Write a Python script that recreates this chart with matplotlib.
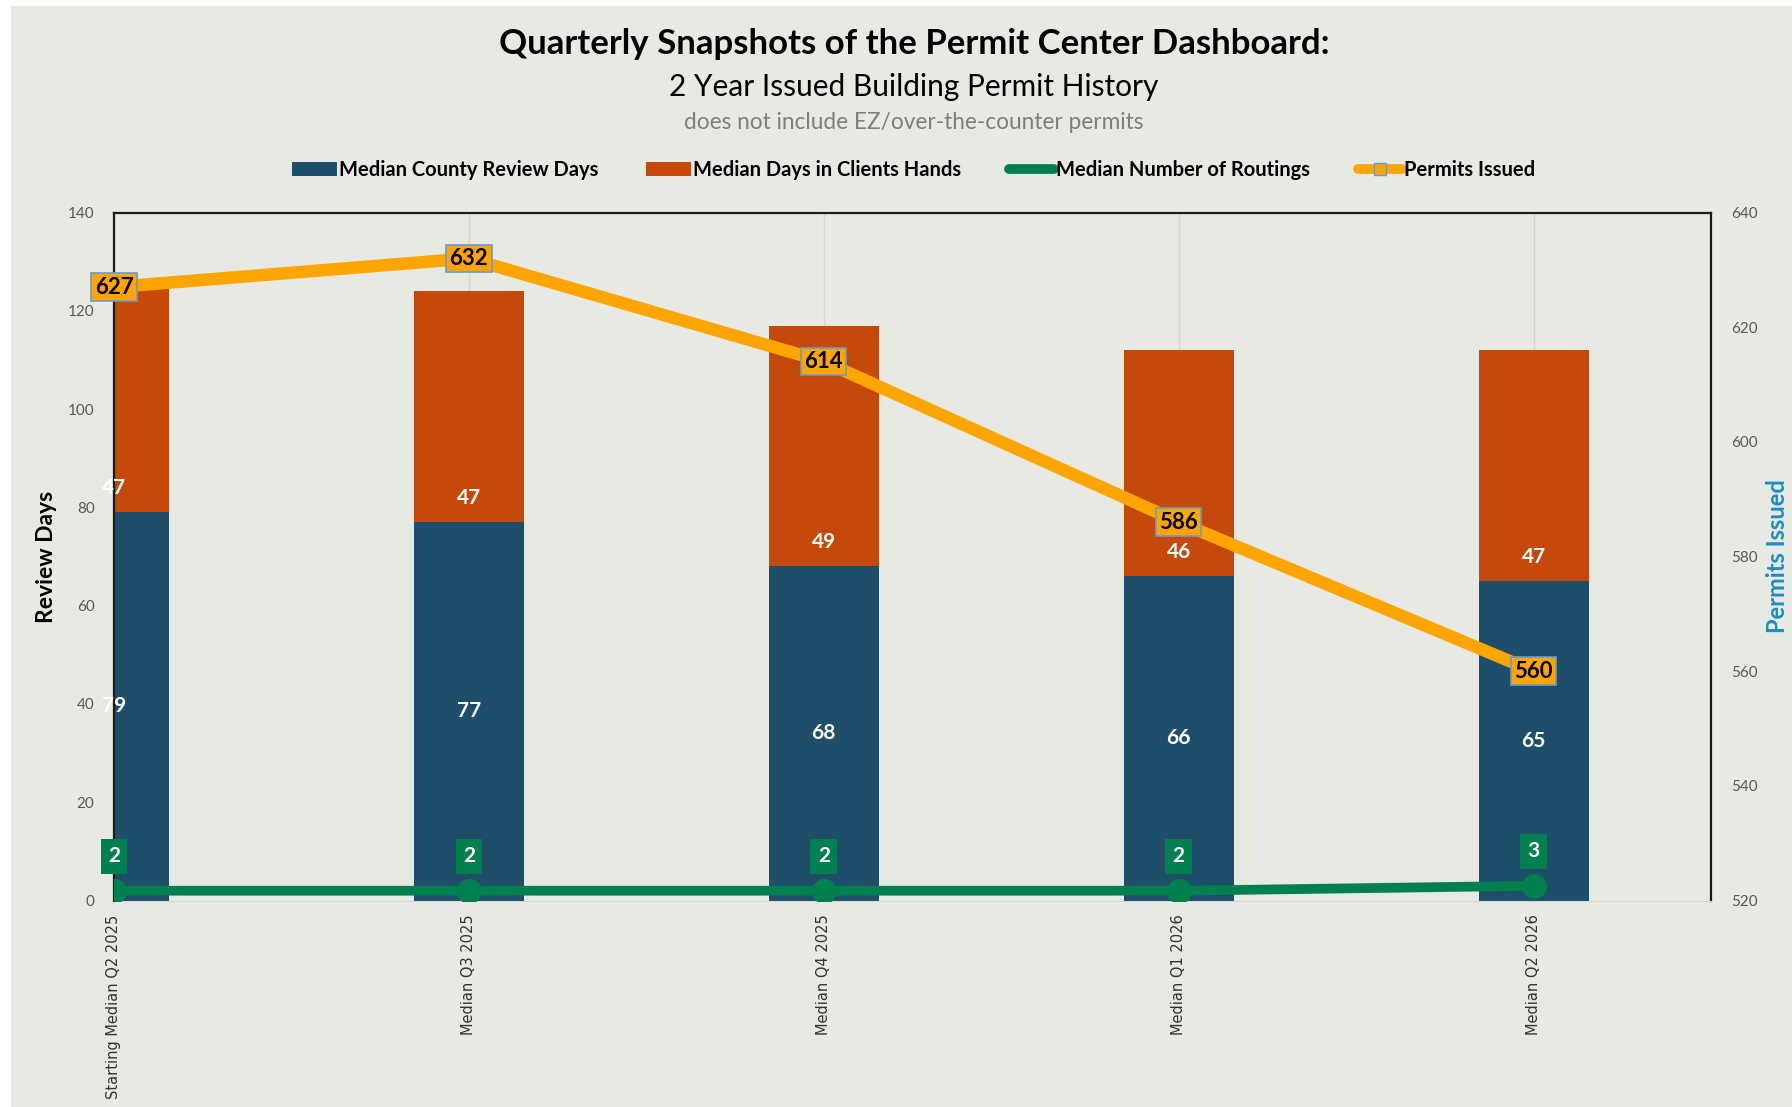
import numpy as np
import matplotlib.pyplot as plt
from matplotlib.lines import Line2D
from matplotlib.patches import Patch, Rectangle

# Data
quarters = ['Starting Median Q2 2025', 'Median Q3 2025', 'Median Q4 2025',
            'Median Q1 2026', 'Median Q2 2026']
county_days = [79, 77, 68, 66, 65]
client_days = [47, 47, 49, 46, 47]
routings = [2, 2, 2, 2, 3]
permits = [627, 632, 614, 586, 560]

BG = '#e7e9e3'
BLUE = '#1f4e6b'
ORANGE = '#c5490a'
GREEN = '#00804f'
GOLD = '#ffa500'
EDGE = '#6a9ccc'

plt.rcParams['font.family'] = ['Lato', 'DejaVu Sans']

fig = plt.figure(figsize=(17.92, 11.07), dpi=100, facecolor='white')
fig.patches.append(Rectangle((0.0064, 0.0), 0.9936, 0.9946, transform=fig.transFigure,
                             facecolor=BG, edgecolor='none', zorder=-10))

ax = fig.add_axes([0.0636, 0.1865, 0.8913, 0.6215])
ax.set_facecolor(BG)
x = np.arange(len(quarters))
w = 0.31

ax.bar(x, county_days, w, color=BLUE, zorder=2)
ax.bar(x, client_days, w, bottom=county_days, color=ORANGE, zorder=2)
ax.plot(x, routings, color=GREEN, lw=7, marker='o', ms=17, zorder=4, solid_capstyle='round')

for xi, c, o, r in zip(x, county_days, client_days, routings):
    ax.text(xi, c / 2, str(c), ha='center', va='center', color='white',
            fontsize=15, fontweight='bold', zorder=6)
    ax.text(xi, c + 5, str(o), ha='center', va='center', color='white',
            fontsize=15, fontweight='bold', zorder=6)
    ax.text(xi, r + 7, str(r), ha='center', va='center', color='white',
            fontsize=15, fontweight='bold', zorder=6,
            bbox=dict(boxstyle='square,pad=0.35', facecolor=GREEN, edgecolor='none'))

ax.set_xlim(0, 4.5)
ax.set_ylim(0, 140)
ax.set_yticks(range(0, 141, 20))
ax.set_xticks(x)
ax.set_xticklabels(quarters, rotation=90, color='#333333', va='top',
                   fontdict={'family': 'DejaVu Sans', 'size': 10.5})
ax.tick_params(axis='x', length=0, pad=10)
ax.tick_params(axis='y', length=0, labelsize=11, labelcolor='#595959', pad=14)
ax.grid(axis='x', color='#d4d6d2', lw=1, zorder=0)
ax.set_axisbelow(True)
for s in ['left', 'top', 'right']:
    ax.spines[s].set_color('#1a1a1a')
    ax.spines[s].set_linewidth(1.6)
ax.spines['bottom'].set_color('#d4d6d2')
ax.set_ylabel('Review Days', fontsize=16.5, fontweight='bold', labelpad=8)

ax2 = ax.twinx()
ax2.plot(x, permits, color=GOLD, lw=9, marker='s', ms=10, mfc=GOLD, mec=EDGE, zorder=3)
for xi, p in zip(x, permits):
    ax2.text(xi, p, str(p), ha='center', va='center', color='black',
             fontsize=16, fontweight='bold', zorder=7,
             bbox=dict(boxstyle='square,pad=0.15', facecolor=GOLD, edgecolor=EDGE, lw=1.2))
ax2.set_ylim(520, 640)
ax2.set_yticks(range(520, 641, 20))
ax2.tick_params(axis='y', length=0, labelsize=11, labelcolor='#595959', pad=14)
for s in ax2.spines.values():
    s.set_visible(False)
ax2.set_ylabel('Permits Issued', fontsize=17, fontweight='bold', color='#1a8fc4', labelpad=6)

handles = [
    Patch(facecolor=BLUE, label='Median County Review Days'),
    Patch(facecolor=ORANGE, label='Median Days in Clients Hands'),
    Line2D([], [], color=GREEN, lw=7, solid_capstyle='round', label='Median Number of Routings'),
    Line2D([], [], color=GOLD, lw=7, marker='s', ms=9, mfc=GOLD, mec=EDGE,
           solid_capstyle='round', label='Permits Issued'),
]
fig.legend(handles=handles, loc='center', bbox_to_anchor=(0.51, 0.846), ncol=4,
           frameon=False, handlelength=2.2, handletextpad=0.1,
           columnspacing=2.4, prop={'weight': 'bold', 'size': 14.5})

fig.text(0.51, 0.96, 'Quarterly Snapshots of the Permit Center Dashboard:',
         ha='center', va='center', fontsize=25, fontweight='bold')
fig.text(0.51, 0.921, '2 Year Issued Building Permit History',
         ha='center', va='center', fontsize=21.5)
fig.text(0.51, 0.889, 'does not include EZ/over-the-counter permits',
         ha='center', va='center', fontsize=16.3, color='#7f7f7f')

fig.savefig('out.png', dpi=100, facecolor='white')
